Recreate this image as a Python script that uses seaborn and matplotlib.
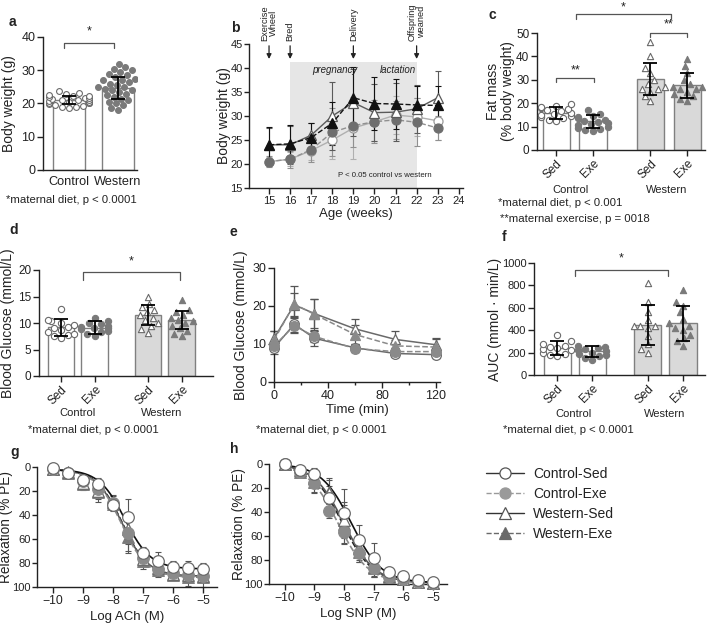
import numpy as np
import matplotlib
matplotlib.use("Agg")
import matplotlib.pyplot as plt
from matplotlib.lines import Line2D
import seaborn as sns

# ---- data ----
groups = ["Control-Sed", "Control-Exe", "Western-Sed", "Western-Exe"]

# panel a: offspring body weight
a_labels = ["Control", "Western"]
a_means = [21.0, 24.8]
a_sds = [1.2, 3.3]
a_ctrl_pts = [18.5, 18.8, 19, 19.2, 19.5, 19.7, 20, 20, 20.2, 20.4, 20.6, 20.8, 21, 21,
              21.2, 21.4, 21.6, 21.8, 22, 22.2, 22.4, 22.6, 23, 23.3, 23.8]
a_west_pts = [18, 18.5, 19.5, 20, 20.5, 21, 21.5, 22, 22.5, 23, 23.5, 24, 24, 24.5, 25, 25,
              25.5, 26, 26.5, 27, 27, 27.5, 28, 28.5, 29, 29.5, 30, 30.5, 31, 32]

# panel b: maternal body weight by age
b_weeks = [15, 16, 17, 18, 19, 20, 21, 22, 23]
b_ctrl_sed = [20.5, 21.0, 22.8, 25.0, 27.5, 28.8, 30.2, 29.8, 29.0]
b_ctrl_exe = [20.5, 21.0, 23.0, 26.6, 28.0, 28.8, 29.2, 28.7, 27.5]
b_west_sed = [24.0, 24.0, 26.0, 30.0, 32.8, 30.7, 30.8, 31.5, 33.8]
b_west_exe = [24.0, 24.2, 25.5, 28.5, 33.8, 32.6, 32.5, 32.3, 32.2]
b_ctrl_sed_sd = [1.0, 1.5, 2.0, 4.0, 6.5, 4.0, 4.0, 4.0, 4.0]
b_ctrl_exe_sd = [1.2, 1.8, 2.5, 5.0, 4.5, 4.5, 4.0, 5.0, 2.5]
b_west_sed_sd = [3.5, 4.0, 2.5, 7.0, 7.0, 6.0, 6.0, 5.0, 5.5]
b_west_exe_sd = [3.7, 4.0, 3.0, 4.5, 6.5, 5.5, 5.2, 4.0, 4.0]
b_events = ["Exercise\nWheel", "Bred", "Delivery", "Offspring\nweaned"]
b_event_weeks = [15, 16, 19, 22]

# panel c: fat mass
c_means = [15.8, 12.2, 30.3, 27.6]
c_sds = [2.5, 2.8, 6.7, 5.2]
c_pts = [
    [12.5, 13, 13.5, 14, 14.5, 15, 15.5, 16, 16.5, 17, 17.5, 18, 18.5, 19, 19.5],
    [8, 8.5, 9, 9.5, 10, 10.5, 11, 11.5, 12, 12.5, 13, 13.5, 14, 14.5, 15.5, 17],
    [21, 23, 25, 26, 26, 27, 28, 30, 33, 35, 40, 46],
    [21, 22, 23, 24, 25, 26, 26, 27, 27, 28, 30, 33, 36, 39],
]

# panel d: fasting blood glucose
d_means = [9.2, 9.1, 11.5, 10.5]
d_sds = [1.6, 1.2, 1.9, 1.7]
d_pts = [
    [7.2, 7.5, 7.8, 8, 8.3, 8.6, 9, 9.3, 9.6, 10, 10.3, 10.6, 12.7],
    [7.5, 8, 8.3, 8.5, 8.8, 9, 9, 9.3, 9.5, 9.8, 10, 10.3, 11],
    [8.2, 8.8, 9.5, 10, 10.5, 11, 11.5, 12, 12.5, 13, 13.5, 15],
    [7.5, 8, 8.5, 9, 9.5, 10, 10.3, 10.5, 11, 11.5, 12, 12.5, 14.3],
]

# panel e: glucose tolerance test
e_time = [0, 15, 30, 60, 90, 120]
e_ctrl_sed = [9.0, 15.2, 11.5, 9.0, 7.5, 7.2]
e_ctrl_exe = [9.5, 14.8, 12.0, 8.8, 8.0, 8.0]
e_west_sed = [11.5, 20.3, 18.0, 14.0, 11.2, 9.8]
e_west_exe = [11.0, 20.5, 17.8, 12.5, 9.5, 9.2]
e_ctrl_sed_sd = [1.5, 2.0, 2.0, 1.0, 1.0, 1.0]
e_ctrl_exe_sd = [1.3, 2.0, 1.5, 1.0, 1.0, 1.0]
e_west_sed_sd = [2.0, 5.0, 3.8, 2.5, 2.2, 1.8]
e_west_exe_sd = [2.3, 3.0, 4.0, 2.5, 1.5, 2.0]

# panel f: AUC
f_means = [240, 210, 445, 462]
f_sds = [60, 45, 180, 155]
f_pts = [
    [170, 180, 190, 200, 220, 230, 240, 250, 260, 280, 300, 360],
    [130, 150, 170, 180, 190, 200, 210, 220, 230, 240, 250, 260],
    [200, 230, 280, 350, 420, 440, 440, 440, 490, 560, 650, 820],
    [260, 300, 330, 360, 400, 420, 440, 460, 500, 560, 620, 650, 760],
]

# panels g, h: vascular relaxation
log_dose = [-10, -9.5, -9, -8.5, -8, -7.5, -7, -6.5, -6, -5.5, -5]
g_vals = [
    [1, 5, 11, 14, 32, 42, 72, 78, 83, 84, 85],
    [2, 5, 12, 18, 30, 55, 76, 85, 88, 90, 91],
    [2, 4, 13, 20, 29, 52, 77, 84, 89, 90, 91],
    [2, 5, 14, 21, 31, 58, 78, 86, 90, 92, 92],
]
g_sds = [
    [1, 2, 4, 5, 5, 15, 5, 7, 5, 6, 5],
    [2, 3, 5, 6, 6, 15, 6, 5, 5, 5, 5],
    [2, 3, 5, 7, 6, 12, 5, 5, 4, 4, 4],
    [2, 4, 5, 8, 5, 14, 7, 6, 4, 7, 8],
]
h_vals = [
    [0, 5, 8, 28, 41, 63, 78, 90, 93, 97, 98],
    [0, 7, 16, 39, 57, 74, 87, 94, 96, 98, 99],
    [0, 5, 12, 24, 47, 70, 86, 93, 96, 98, 99],
    [0, 7, 15, 23, 50, 73, 87, 94, 96, 98, 99],
]
h_sds = [
    [1, 3, 5, 10, 20, 12, 12, 3, 2, 1, 1],
    [1, 3, 8, 6, 10, 8, 6, 2, 2, 1, 1],
    [1, 3, 8, 12, 15, 10, 8, 3, 2, 1, 1],
    [1, 3, 8, 10, 16, 9, 7, 3, 2, 1, 1],
]
# fitted curve parameters (bottom, top, logEC50, hill) per group
g_fit_bottom = [2, 2, 2, 2]
g_fit_top = [85, 92, 91, 92]
g_fit_ec50 = [-7.6, -7.72, -7.7, -7.68]
g_fit_hill = [1.0, 1.0, 1.0, 1.0]
h_fit_bottom = [0, 0, 0, 0]
h_fit_top = [99, 99, 99, 99]
h_fit_ec50 = [-7.75, -8.2, -8.0, -8.05]
h_fit_hill = [0.85, 0.85, 0.85, 0.85]

# ---- styles ----
sns.set_theme(style="ticks")
plt.rcParams["font.family"] = ["Liberation Sans", "DejaVu Sans"]
plt.rcParams["axes.linewidth"] = 1.0

W, H = 709, 624
fig = plt.figure(figsize=(W / 100, H / 100), dpi=100)

INK = "#222222"
EDGE = "#808080"
markers = ["o", "o", "^", "^"]
faces = ["white", "#7a7a7a", "white", "#7a7a7a"]
medges = ["#6a6a6a", "#7a7a7a", "#6a6a6a", "#7a7a7a"]
bar_fill = ["white", "white", "#d9d9d9", "#d9d9d9"]
LABEL = 10


def px_ax(x0, y0, x1, y1):
    return fig.add_axes([x0 / W, 1 - y1 / H, (x1 - x0) / W, (y1 - y0) / H])


def style_ax(ax, size=8.5, ysize=None):
    sns.despine(ax=ax)
    ax.tick_params(length=4, width=1, color=INK, labelsize=size, pad=1.5, labelcolor=INK)
    if ysize:
        ax.tick_params(axis="y", labelsize=ysize)
    ax.tick_params(which="minor", length=2.5, width=1, color=INK)
    for s in ["left", "bottom"]:
        ax.spines[s].set_color(INK)
    ax.set_xlabel("")
    ax.set_ylabel("")


def set_ylab(ax, text, xfrac, size=LABEL):
    ax.set_ylabel(text, fontsize=size, color=INK, linespacing=1.1)
    ax.yaxis.set_label_coords(xfrac, 0.5)


def bracket(ax, x1, x2, y, drop, label, ylab, va="center"):
    ax.plot([x1, x1, x2, x2], [y - drop, y, y, y - drop], color="#555555", lw=0.9, clip_on=False)
    ax.text((x1 + x2) / 2, ylab, label, ha="center", va=va, fontsize=9, color=INK)


def bar_panel(ax, pos, means, sds, pts, width, msize):
    for i in range(len(pos)):
        sns.barplot(x=[pos[i]], y=[means[i]], native_scale=True, width=width, color=bar_fill[i],
                    saturation=1, edgecolor=EDGE, linewidth=1.0, ax=ax)
        sns.swarmplot(x=[pos[i]] * len(pts[i]), y=pts[i], native_scale=True, marker=markers[i],
                      size=msize, color=faces[i], edgecolor=medges[i], linewidth=0.8,
                      warn_thresh=1, ax=ax)
    ax.errorbar(pos, means, yerr=sds, fmt="none", ecolor="black", elinewidth=1.3,
                capsize=5, capthick=1.3, zorder=5)


def sed_exe_ticks(ax, pos, xlim):
    ax.set_xlim(*xlim)
    ax.set_xticks(pos)
    ax.set_xticklabels(["Sed", "Exe", "Sed", "Exe"], rotation=45, ha="right",
                       rotation_mode="anchor", fontsize=8.5)


def group_labels(ax, xc, xw, yfrac):
    tr = ax.get_xaxis_transform()
    ax.text(xc, yfrac, "Control", transform=tr, ha="center", va="center", fontsize=8, color=INK)
    ax.text(xw, yfrac, "Western", transform=tr, ha="center", va="center", fontsize=8, color=INK)


# ---- panel a ----
ax = px_ax(43, 37, 137, 170)
bar_panel(ax, [0, 1], a_means, a_sds, [a_ctrl_pts, a_west_pts], 0.67, 4.2)
style_ax(ax, 9)
ax.set_xlim(-0.53, 1.39)
ax.set_ylim(0, 40)
ax.set_yticks([0, 10, 20, 30, 40])
ax.set_xticks([0, 1])
ax.set_xticklabels(a_labels, fontsize=9.2)
ax.tick_params(axis="x", length=0, pad=4)
set_ylab(ax, "Body weight (g)", -0.29)
bracket(ax, -0.1, 0.93, 38.2, 1.4, "*", 41.8)

# ---- panel b ----
ax = px_ax(249, 44, 463, 188)
ax.axvspan(16, 22, ymin=0, ymax=(41.3 - 15) / 30, color="#e6e6e6", lw=0, zorder=0)
b_series = [
    (b_ctrl_sed, b_ctrl_sed_sd, "o", "white", "#9a9a9a", "#b0b0b0", "-"),
    (b_ctrl_exe, b_ctrl_exe_sd, "o", "#6e6e6e", "#6e6e6e", "#909090", "--"),
    (b_west_sed, b_west_sed_sd, "^", "white", "#5a5a5a", "#5a5a5a", "-"),
    (b_west_exe, b_west_exe_sd, "^", "#111111", "#111111", "#111111", "--"),
]
for vals, sds, mk, fc, ec, lc, ls in b_series:
    ax.errorbar(b_weeks, vals, yerr=sds, fmt="none", ecolor=lc, elinewidth=0.8, capsize=2.5,
                capthick=0.8, zorder=2)
    sns.lineplot(x=b_weeks, y=vals, ax=ax, color=lc, linestyle=ls, lw=1.0, marker=mk,
                 markersize=6.5, markerfacecolor=fc, markeredgecolor=ec, markeredgewidth=0.9,
                 errorbar=None, zorder=3)
style_ax(ax, 8)
ax.tick_params(axis="y", length=3.5, pad=1)
ax.set_xlim(14.05, 24.2)
ax.set_ylim(15, 45)
ax.set_xticks(range(15, 25))
ax.set_yticks(range(15, 46, 5))
ax.set_xlabel("Age (weeks)", fontsize=9.5, labelpad=2, color=INK)
set_ylab(ax, "Body weight (g)", -0.084)
for wk, lab in zip(b_event_weeks, b_events):
    ax.annotate("", xy=(wk, 41.3), xytext=(wk, 45.2), annotation_clip=False,
                arrowprops=dict(arrowstyle="-|>", color=INK, lw=0.9, mutation_scale=7))
    ax.text(wk, 45.6, lab, rotation=90, ha="center", va="bottom", fontsize=6.7,
            color=INK, clip_on=False, linespacing=1.0)
ax.text(18.1, 39.6, "pregnancy", style="italic", ha="center", va="center", fontsize=7, color=INK)
ax.text(21.1, 39.6, "lactation", style="italic", ha="center", va="center", fontsize=7, color=INK)
ax.text(20.5, 17.7, "P < 0.05 control vs western", ha="center", va="center", fontsize=5.6, color=INK)

# ---- panel c ----
ax = px_ax(537, 33, 705, 150)
bar_panel(ax, [0, 1, 2.56, 3.56], c_means, c_sds, c_pts, 0.74, 4.5)
style_ax(ax)
sed_exe_ticks(ax, [0, 1, 2.56, 3.56], (-0.52, 4.04))
ax.set_ylim(0, 50)
ax.set_yticks(range(0, 51, 10))
set_ylab(ax, "Fat mass\n(% body weight)", -0.13)
bracket(ax, 0, 1.03, 30.8, 1.6, "**", 34)
bracket(ax, 2.55, 3.55, 50, 1.8, "**", 53.6)
bracket(ax, 0.54, 3.12, 58, 2.2, "*", 58.5, va="bottom")
group_labels(ax, 0.4, 3.0, -0.34)

# ---- panel d ----
ax = px_ax(39, 270, 213, 376)
bar_panel(ax, [0, 1, 2.6, 3.6], d_means, d_sds, d_pts, 0.78, 4.5)
style_ax(ax)
sed_exe_ticks(ax, [0, 1, 2.6, 3.6], (-0.66, 4.54))
ax.set_ylim(0, 20)
ax.set_yticks(range(0, 21, 5))
set_ylab(ax, "Blood Glucose (mmol/L)", -0.138)
bracket(ax, 0.66, 3.55, 19.6, 1.4, "*", 21.6)
group_labels(ax, 0.5, 3.0, -0.35)

# ---- panel e ----
ax = px_ax(274, 268, 440, 382)
e_series = [
    (e_ctrl_sed, e_ctrl_sed_sd, "o", "white", "#6a6a6a", "#6a6a6a", "-"),
    (e_ctrl_exe, e_ctrl_exe_sd, "o", "#8a8a8a", "#8a8a8a", "#8a8a8a", "--"),
    (e_west_sed, e_west_sed_sd, "^", "white", "#6a6a6a", "#6a6a6a", "-"),
    (e_west_exe, e_west_exe_sd, "^", "#8a8a8a", "#8a8a8a", "#8a8a8a", "--"),
]
for vals, sds, mk, fc, ec, lc, ls in e_series:
    ax.errorbar(e_time, vals, yerr=sds, fmt="none", ecolor="#555555", elinewidth=0.9,
                capsize=3, capthick=0.9, zorder=2, clip_on=False)
    sns.lineplot(x=e_time, y=vals, ax=ax, color=lc, linestyle=ls, lw=1.1, marker=mk,
                 markersize=7, markerfacecolor=fc, markeredgecolor=ec, markeredgewidth=0.9,
                 errorbar=None, zorder=3, clip_on=False)
style_ax(ax, 9)
ax.set_xlim(0, 123)
ax.set_ylim(0, 30)
ax.set_xticks([0, 40, 80, 120])
ax.set_xticks([20, 60, 100], minor=True)
ax.set_yticks([0, 10, 20, 30])
ax.set_xlabel("Time (min)", fontsize=9.5, labelpad=2, color=INK)
set_ylab(ax, "Blood Glucose (mmol/L)", -0.157)

# ---- panel f ----
ax = px_ax(534, 263, 705, 375)
bar_panel(ax, [0, 1, 2.57, 3.57], f_means, f_sds, f_pts, 0.78, 4.5)
style_ax(ax, 8.5, 8)
sed_exe_ticks(ax, [0, 1, 2.57, 3.57], (-0.66, 4.2))
ax.set_ylim(0, 1000)
ax.set_yticks(range(0, 1001, 200))
set_ylab(ax, "AUC (mmol \u00b7 min/L)", -0.187)
bracket(ax, 0.51, 3.14, 940, 60, "*", 1045)
group_labels(ax, 0.45, 3.05, -0.35)

# ---- panels g, h ----
curve_cols = ["#111111", "#8a8a8a", "#555555", "#222222"]
curve_ls = ["-", "--", "-", "--"]
dr_faces = ["white", "#8a8a8a", "white", "#7a7a7a"]
dr_edges = ["#6a6a6a", "#8a8a8a", "#6a6a6a", "#7a7a7a"]


def dose_panel(ax, vals, sds, bottom, top, ec50, hill, xlabel, ylab_x):
    xx = np.linspace(-10, -5, 200)
    order = [3, 2, 1, 0]
    for i in order:
        ax.errorbar(log_dose, vals[i], yerr=sds[i], fmt="none", ecolor="#555555", elinewidth=0.8,
                    capsize=2.5, capthick=0.8, zorder=2, clip_on=False)
    for i in order:
        yy = bottom[i] + (top[i] - bottom[i]) / (1 + 10 ** ((ec50[i] - xx) * hill[i]))
        sns.lineplot(x=xx, y=yy, ax=ax, color=curve_cols[i], linestyle=curve_ls[i], lw=1.2,
                     errorbar=None, zorder=3)
    for i in order:
        sns.scatterplot(x=log_dose, y=vals[i], ax=ax, marker=markers[i], s=70,
                        color=dr_faces[i], edgecolor=dr_edges[i], linewidth=0.9, zorder=4,
                        clip_on=False)
    style_ax(ax, 8.8, 8)
    ax.tick_params(axis="y", length=3.5, pad=1)
    ax.set_xlim(-10.53, -4.53)
    ax.set_ylim(100, 0)
    ax.set_xticks([-10, -9, -8, -7, -6, -5])
    ax.set_xticklabels(["\u221210", "\u22129", "\u22128", "\u22127", "\u22126", "\u22125"])
    ax.set_yticks(range(0, 101, 20))
    ax.set_xlabel(xlabel, fontsize=9.5, labelpad=3, color=INK)
    set_ylab(ax, "Relaxation (% PE)", ylab_x, 9.8)


ax = px_ax(37, 467, 217, 587)
dose_panel(ax, g_vals, g_sds, g_fit_bottom, g_fit_top, g_fit_ec50, g_fit_hill, "Log ACh (M)", -0.135)
ax = px_ax(269, 464, 447, 584)
dose_panel(ax, h_vals, h_sds, h_fit_bottom, h_fit_top, h_fit_ec50, h_fit_hill, "Log SNP (M)", -0.13)

# ---- legend ----
leg_line = ["#333333", "#9a9a9a", "#333333", "#6a6a6a"]
leg_ls = ["-", "--", "-", "--"]
leg_face = ["white", "#9a9a9a", "white", "#6a6a6a"]
leg_edge = ["#555555", "#9a9a9a", "#555555", "#6a6a6a"]
handles = [Line2D([], [], color=leg_line[i], ls=leg_ls[i], lw=1.0, marker=markers[i], ms=8,
                  mfc=leg_face[i], mec=leg_edge[i], mew=0.9) for i in range(4)]
leg = fig.legend(handles, groups, loc="upper left", bbox_to_anchor=(486 / W, 1 - 467 / H),
                 frameon=False, fontsize=10, handlelength=2.7, handletextpad=0.7,
                 labelspacing=0.42, borderaxespad=0, borderpad=0)
for t in leg.get_texts():
    t.set_color(INK)

# ---- notes and panel letters ----
notes = [
    (6, 200, "*maternal diet, p < 0.0001"),
    (498, 203, "*maternal diet, p < 0.001"),
    (500, 219, "**maternal exercise, p = 0018"),
    (28, 430, "*maternal diet, p < 0.0001"),
    (256, 430, "*maternal diet, p < 0.0001"),
    (503, 430, "*maternal diet, p < 0.0001"),
]
for x, y, t in notes:
    fig.text(x / W, 1 - y / H, t, ha="left", va="center", fontsize=8.2, color=INK)

letters = [("a", 9, 22), ("b", 231, 28), ("c", 488, 15), ("d", 9, 230), ("e", 230, 232),
           ("f", 502, 237), ("g", 10, 452), ("h", 230, 449)]
for lab, x, y in letters:
    fig.text(x / W, 1 - y / H, lab, ha="left", va="center", fontsize=10, fontweight="bold", color=INK)

fig.savefig("out.png", dpi=100)
